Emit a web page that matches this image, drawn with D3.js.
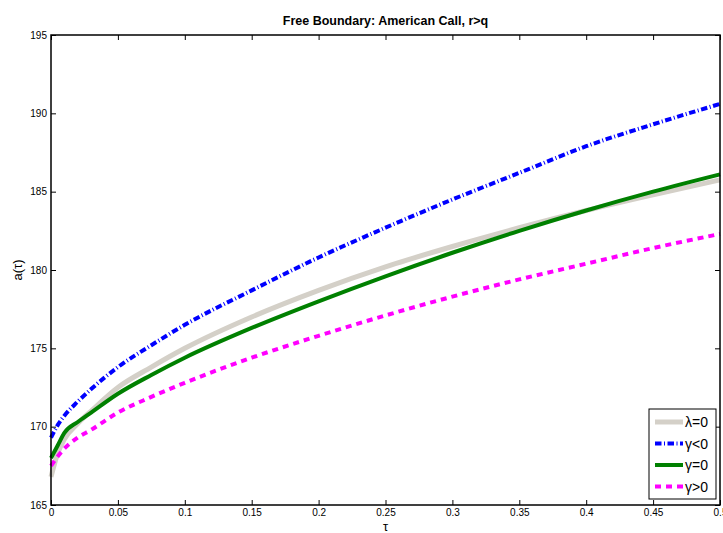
<!DOCTYPE html>
<html>
<head>
<meta charset="utf-8">
<script src="https://cdn.jsdelivr.net/npm/d3@7"></script>
<style>
  body { margin: 0; background: #fff; }
  text { font-family: "Liberation Sans", Arial, sans-serif; }
  .axis .domain { stroke: none; }
  .axis line { stroke: #000; stroke-width: 1; }
  .axis text { font-size: 10px; fill: #000; }
</style>
</head>
<body>
<svg width="723" height="533"></svg>
<script>
const svg = d3.select('svg');
const width = +svg.attr('width');
const height = +svg.attr('height');

// tau grid and the four boundary curves
const tau = [0, 0.005, 0.01, 0.02, 0.03, 0.05, 0.075, 0.1, 0.15, 0.2, 0.25, 0.3, 0.35, 0.4, 0.45, 0.5];
const lambdaZero = [166.8, 168.3, 169.2, 170.2, 171.0, 172.5, 173.8, 175.0, 177.0, 178.7, 180.2, 181.5, 182.7, 183.8, 184.8, 185.75];
const gammaNeg = [169.3, 170.1, 170.7, 171.6, 172.4, 173.8, 175.2, 176.5, 178.7, 180.8, 182.7, 184.5, 186.2, 187.9, 189.3, 190.6];
const gammaZero = [168.0, 168.8, 169.6, 170.3, 170.9, 172.1, 173.3, 174.4, 176.3, 178.0, 179.6, 181.1, 182.5, 183.8, 185.0, 186.1];
const gammaPos = [167.5, 168.1, 168.6, 169.3, 169.8, 170.9, 171.9, 172.8, 174.4, 175.8, 177.1, 178.3, 179.4, 180.4, 181.4, 182.3];

const xTicks = [0, 0.05, 0.1, 0.15, 0.2, 0.25, 0.3, 0.35, 0.4, 0.45, 0.5];
const yTicks = [165, 170, 175, 180, 185, 190, 195];

const seriesNames = ['λ=0', 'γ<0', 'γ=0', 'γ>0'];
const seriesValues = [lambdaZero, gammaNeg, gammaZero, gammaPos];

const styles = [
  { color: '#d4d0c8', width: 5, dash: null },
  { color: '#0000ff', width: 4, dash: '6.5,2.5,1,2.5' },
  { color: '#008000', width: 4, dash: null },
  { color: '#ff00ff', width: 4, dash: '6,5' },
];

const margin = { top: 35, right: 3, bottom: 28, left: 51 };
const innerWidth = width - margin.left - margin.right;
const innerHeight = height - margin.top - margin.bottom;

const xScale = d3.scaleLinear().domain([0, 0.5]).range([0, innerWidth]);
const yScale = d3.scaleLinear().domain([165, 195]).range([innerHeight, 0]);

const g = svg.append('g')
  .attr('transform', `translate(${margin.left},${margin.top})`);

// ticks on all four sides, pointing in
g.append('g').attr('class', 'axis')
  .attr('transform', `translate(0,${innerHeight})`)
  .call(d3.axisBottom(xScale).tickValues(xTicks).tickSize(-5).tickPadding(4).tickFormat(d3.format('')));

g.append('g').attr('class', 'axis')
  .call(d3.axisTop(xScale).tickValues(xTicks).tickSize(-5).tickFormat(''));

g.append('g').attr('class', 'axis')
  .call(d3.axisLeft(yScale).tickValues(yTicks).tickSize(-5).tickPadding(4));

g.append('g').attr('class', 'axis')
  .attr('transform', `translate(${innerWidth},0)`)
  .call(d3.axisRight(yScale).tickValues(yTicks).tickSize(-5).tickFormat(''));

const line = d3.line()
  .x((d, i) => xScale(tau[i]))
  .y(d => yScale(d))
  .curve(d3.curveMonotoneX);

seriesValues.forEach((vals, k) => {
  g.append('path')
    .datum(vals)
    .attr('d', line)
    .attr('fill', 'none')
    .attr('stroke', styles[k].color)
    .attr('stroke-width', styles[k].width)
    .attr('stroke-dasharray', styles[k].dash);
});

// box
g.append('rect')
  .attr('width', innerWidth)
  .attr('height', innerHeight)
  .attr('fill', 'none')
  .attr('stroke', '#000')
  .attr('stroke-width', 1.5);

// legend
const legend = g.append('g')
  .attr('transform', `translate(${649 - margin.left},${409 - margin.top})`);

legend.append('rect')
  .attr('width', 67)
  .attr('height', 90)
  .attr('fill', '#fff')
  .attr('stroke', '#000')
  .attr('stroke-width', 1);

seriesNames.forEach((name, k) => {
  const yy = 13 + k * 21.5;
  legend.append('line')
    .attr('x1', 6).attr('x2', 34)
    .attr('y1', yy).attr('y2', yy)
    .attr('stroke', styles[k].color)
    .attr('stroke-width', styles[k].width)
    .attr('stroke-dasharray', styles[k].dash);
  legend.append('text')
    .attr('x', 36)
    .attr('y', yy + 5)
    .attr('font-size', 14)
    .text(name);
});

svg.append('text')
  .attr('x', margin.left + innerWidth / 2)
  .attr('y', 25)
  .attr('text-anchor', 'middle')
  .attr('font-size', 12.5)
  .attr('font-weight', 'bold')
  .text('Free Boundary: American Call, r>q');

svg.append('text')
  .attr('x', margin.left + innerWidth / 2)
  .attr('y', 531)
  .attr('text-anchor', 'middle')
  .attr('font-size', 13)
  .text('τ');

svg.append('text')
  .attr('transform', `translate(22,${margin.top + innerHeight / 2}) rotate(-90)`)
  .attr('text-anchor', 'middle')
  .attr('font-size', 13)
  .text('a(τ)');
</script>
</body>
</html>
